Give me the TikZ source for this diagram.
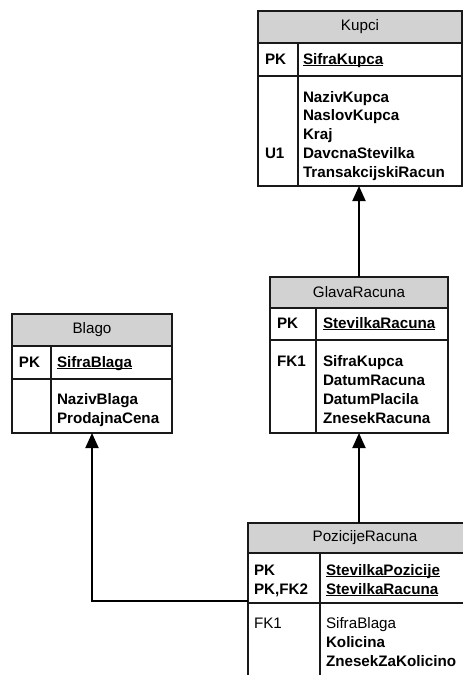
\documentclass[tikz,border=0pt]{standalone}
\usepackage{fontspec}
\setmainfont{Liberation Sans}
\usetikzlibrary{arrows.meta}
% underlined primary-key field name
\newcommand\keyfield[1]{\setbox0\hbox{#1}\rlap{\rule[-2.4pt]{\wd0}{1.3pt}}\box0}
\begin{document}
\begin{tikzpicture}[x=1pt,y=-1pt,
  every node/.style={inner sep=0pt, outer sep=0pt, font=\fontsize{15.2}{18}\selectfont},
  tablebox/.style={draw=black!90, line width=1.1pt, anchor=north west},
  headbox/.style={tablebox, fill=gray!35},
  rule/.style={draw=black!90, line width=1.1pt},
  bold/.style={anchor=base west, font=\fontsize{15.2}{18}\selectfont\bfseries},
  plain/.style={anchor=base west},
  link/.style={draw=black, line width=1.9pt, -{Triangle[width=13pt,length=15pt]}}
]
\useasboundingbox (0,0) rectangle (463,675);
\clip (0,0) rectangle (463,675);

% ---------------- Kupci ----------------
\node[tablebox, minimum width=204pt, minimum height=175pt] (kupci) at (258,11) {};
\node[headbox, minimum width=204pt, minimum height=32pt] (kupci-h) at (258,11) {Kupci};
\draw[rule] (258,76) -- (462,76);
\draw[rule] (298,43) -- (298,186);
\node[bold] (kupci-pk) at (265,64) {PK};
\node[bold] (kupci-k1) at (303,64) {\keyfield{SifraKupca}};
\node[bold] (kupci-u1) at (265,158.4) {U1};
\node[bold] (kupci-f1) at (303,102) {NazivKupca};
\node[bold] (kupci-f2) at (303,120.8) {NaslovKupca};
\node[bold] (kupci-f3) at (303,139.6) {Kraj};
\node[bold] (kupci-f4) at (303,158.4) {DavcnaStevilka};
\node[bold] (kupci-f5) at (303,177.2) {TransakcijskiRacun};

% ---------------- GlavaRacuna ----------------
\node[tablebox, minimum width=178pt, minimum height=156pt] (glava) at (270,277) {};
\node[headbox, minimum width=178pt, minimum height=31pt] (glava-h) at (270,277) {GlavaRacuna};
\draw[rule] (270,340) -- (448,340);
\draw[rule] (316,308) -- (316,433);
\node[bold] (glava-pk) at (277,328) {PK};
\node[bold] (glava-k1) at (323,328) {\keyfield{StevilkaRacuna}};
\node[bold] (glava-fk) at (277,366) {FK1};
\node[bold] (glava-f1) at (323,366) {SifraKupca};
\node[bold] (glava-f2) at (323,385) {DatumRacuna};
\node[bold] (glava-f3) at (323,404) {DatumPlacila};
\node[bold] (glava-f4) at (323,423) {ZnesekRacuna};

% ---------------- Blago ----------------
\node[tablebox, minimum width=160pt, minimum height=119pt] (blago) at (12,314) {};
\node[headbox, minimum width=160pt, minimum height=32pt] (blago-h) at (12,314) {Blago};
\draw[rule] (12,379) -- (172,379);
\draw[rule] (51,346) -- (51,433);
\node[bold] (blago-pk) at (19,367) {PK};
\node[bold] (blago-k1) at (57,367) {\keyfield{SifraBlaga}};
\node[bold] (blago-f1) at (57,404) {NazivBlaga};
\node[bold] (blago-f2) at (57,423) {ProdajnaCena};

% ---------------- PozicijeRacuna ----------------
\node[tablebox, minimum width=234pt, minimum height=200pt] (poz) at (248,523) {};
\node[headbox, minimum width=234pt, minimum height=30pt] (poz-h) at (248,523) {PozicijeRacuna};
\draw[rule] (248,603) -- (482,603);
\draw[rule] (320,553) -- (320,723);
\node[bold] (poz-pk1) at (254,575) {PK};
\node[bold] (poz-pk2) at (254,594) {PK,FK2};
\node[bold] (poz-k1) at (326,575) {\keyfield{StevilkaPozicije}};
\node[bold] (poz-k2) at (326,594) {\keyfield{StevilkaRacuna}};
\node[plain] (poz-fk) at (254,628) {FK1};
\node[plain] (poz-f1) at (326,628) {SifraBlaga};
\node[bold] (poz-f2) at (326,647) {Kolicina};
\node[bold] (poz-f3) at (326,666) {ZnesekZaKolicino};

% ---------------- relationships ----------------
\coordinate (poz-up) at (359,523);
\coordinate (poz-side) at (248,601);
\draw[link] (glava.north) -- (glava.north |- kupci.south);
\draw[link] (poz-up) -- (poz-up |- glava.south);
\draw[link] (poz-side) -| (blago.south);
\end{tikzpicture}
\end{document}
